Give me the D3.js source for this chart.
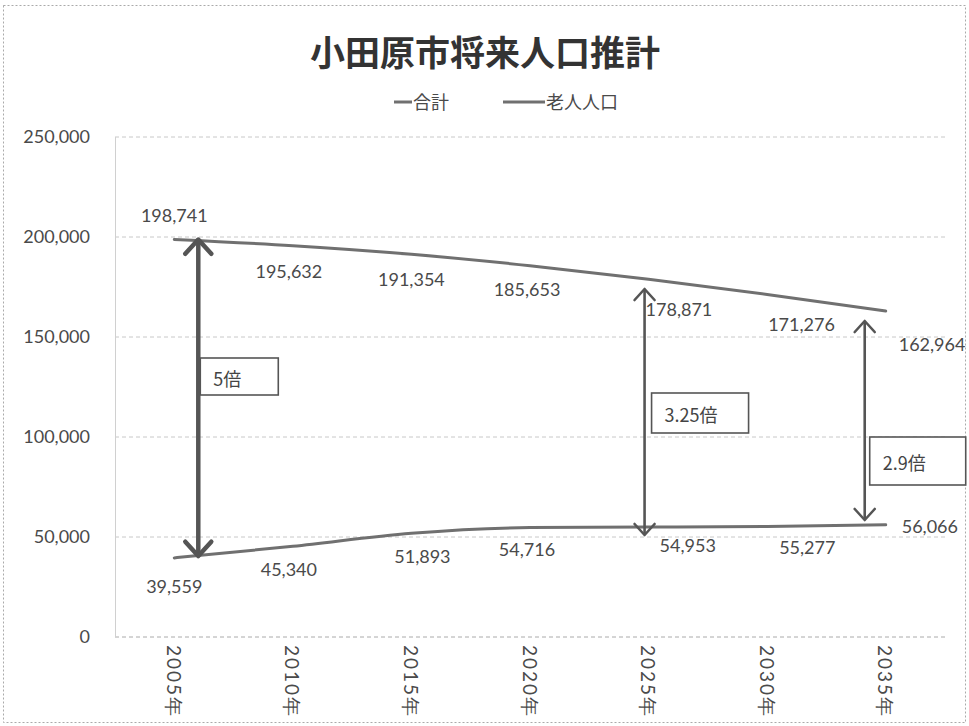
<!DOCTYPE html>
<html><head><meta charset="utf-8">
<script src="https://cdn.jsdelivr.net/npm/d3@7"></script>
<style>
html,body{margin:0;padding:0;background:#fff;}
svg{display:block;}
</style></head>
<body><svg id="c" width="969" height="726"></svg>
<script>
const categories = ["2005年","2010年","2015年","2020年","2025年","2030年","2035年"];
const totalValues = [198741,195632,191354,185653,178871,171276,162964];
const elderValues = [39559,45340,51893,54716,54953,55277,56066];
const yTicks = [0,50000,100000,150000,200000,250000];
const seriesNames = ["合計","老人人口"];
const titleText = "小田原市将来人口推計";
const ratioLabels = ["5倍","3.25倍","2.9倍"];
const ratioCats = ["2005年","2025年","2035年"];
const ratioFrom = [198741,174000,158000];
const ratioTo = [40500,51000,58500];

const svg = d3.select("#c");
const W=969,H=726;
const numFont = "Lato, 'Open Sans', sans-serif";
const jpFont = "'Noto Sans CJK JP', sans-serif";
const textCol = "#4a4a4a";
const lineCol = "#707070";

// border
svg.append("rect").attr("x",3.5).attr("y",5.5).attr("width",W-7).attr("height",H-9)
  .attr("fill","#fff").attr("stroke","#aaa").attr("stroke-width",1).attr("stroke-dasharray","2,2");

const x = d3.scaleBand().domain(categories).range([115,945]);
const cx = c => x(c)+x.bandwidth()/2;
const y = d3.scaleLinear().domain([0,250000]).range([637,137]);

// title
svg.append("text").attr("x",485).attr("y",66).attr("text-anchor","middle")
  .attr("font-family",jpFont).attr("font-weight",700).attr("font-size",35)
  .attr("fill","#333").text(titleText);

// legend
const leg = [{x1:394,x2:412,tx:413},{x1:503,x2:545,tx:546}];
seriesNames.forEach((n,i)=>{
  svg.append("line").attr("x1",leg[i].x1).attr("x2",leg[i].x2).attr("y1",102).attr("y2",102)
    .attr("stroke",lineCol).attr("stroke-width",3);
  svg.append("text").attr("x",leg[i].tx).attr("y",109).attr("font-family",jpFont)
    .attr("font-size",18).attr("fill",textCol).text(n);
});

// grid
const g = svg.append("g");
g.selectAll("line.grid").data(yTicks).enter().append("line")
  .attr("x1",115).attr("x2",945).attr("y1",d=>y(d)).attr("y2",d=>y(d))
  .attr("stroke",d=>d===0?"#aaa":"#c8c8c8").attr("stroke-width",1).attr("stroke-dasharray","4,3");
g.append("line").attr("x1",115.5).attr("x2",115.5).attr("y1",y(250000)).attr("y2",y(0))
  .attr("stroke","#d0d0d0").attr("stroke-width",1);

// y axis
const yAxis = d3.axisLeft(y).tickValues(yTicks).tickFormat(d3.format(",")).tickSize(0).tickPadding(0);
const ya = svg.append("g").attr("transform","translate(90,0)").call(yAxis);
ya.select(".domain").remove();
ya.selectAll("text").attr("font-family",numFont).attr("font-size",18).attr("fill",textCol);

// x axis
const xAxis = d3.axisBottom(x).tickSize(0).tickPadding(0);
const xa = svg.append("g").attr("transform","translate(0,637)").call(xAxis);
xa.select(".domain").remove();
xa.selectAll("text").attr("font-family",numFont).attr("font-size",19).attr("fill",textCol)
  .attr("letter-spacing",2)
  .attr("text-anchor","start").attr("dy",null).attr("y",0).attr("x",0)
  .attr("transform","translate(0,8) rotate(90)").attr("dominant-baseline","central");

// lines
const lineGen = d3.line().x((d,i)=>cx(categories[i])).y(d=>y(d)).curve(d3.curveMonotoneX);
[totalValues,elderValues].forEach(vals=>{
  svg.append("path").attr("d",lineGen(vals)).attr("fill","none")
    .attr("stroke",lineCol).attr("stroke-width",3).attr("stroke-linecap","round");
});

// data labels (placement offsets)
const totalOff = [[0,-25,"middle"],[-4,25,"middle"],[0,25,"middle"],[-3,23,"middle"],[-3,30,"start"],[1,30,"start"],[13,33,"start"]];
const elderOff = [[0,28,"middle"],[-4,23,"middle"],[11,23,"middle"],[-3,21,"middle"],[11,18,"start"],[12,21,"start"],[16,1,"start"]];
function labels(vals,off){
  svg.append("g").selectAll("text").data(vals).enter().append("text")
    .attr("x",(d,i)=>cx(categories[i])+off[i][0])
    .attr("y",(d,i)=>y(d)+off[i][1])
    .attr("text-anchor",(d,i)=>off[i][2]).attr("dominant-baseline","central")
    .attr("font-family",numFont).attr("font-size",18).attr("fill",textCol)
    .text(d=>d3.format(",")(d));
}
labels(totalValues,totalOff);
labels(elderValues,elderOff);

// ratio arrows
const arrowDx = [24,-4,-21];
const arrowW = [4.5,2.6,2.6];
const headS = [13,10,10];
ratioLabels.forEach((t,i)=>{
  const ax = cx(ratioCats[i])+arrowDx[i];
  const y1 = y(ratioFrom[i]), y2 = y(ratioTo[i]);
  const ga = svg.append("g").attr("stroke","#555").attr("stroke-width",arrowW[i]).attr("fill","none")
    .attr("stroke-linecap","round").attr("stroke-linejoin","round");
  ga.append("line").attr("x1",ax).attr("x2",ax).attr("y1",y1+1).attr("y2",y2-1);
  const h=headS[i];
  ga.append("path").attr("d",`M${ax-h},${y1+h*1.1} L${ax},${y1} L${ax+h},${y1+h*1.1}`);
  ga.append("path").attr("d",`M${ax-h},${y2-h*1.1} L${ax},${y2} L${ax+h},${y2-h*1.1}`);
});

// ratio boxes
const boxDx = [26,3,-16];
const boxW = [78,97,96];
const boxV = [139500,122000,100000];
const boxH = [37,40,48];
ratioLabels.forEach((t,i)=>{
  const bx = cx(ratioCats[i])+boxDx[i];
  const by = y(boxV[i]);
  svg.append("rect").attr("x",bx).attr("y",by).attr("width",boxW[i]).attr("height",boxH[i])
    .attr("fill","#fff").attr("stroke","#555").attr("stroke-width",1.6);
  svg.append("text").attr("x",bx+13).attr("y",by+boxH[i]/2+1).attr("dominant-baseline","central")
    .attr("font-family",jpFont).attr("font-size",18).attr("fill","#444").text(t);
});
</script></body></html>
